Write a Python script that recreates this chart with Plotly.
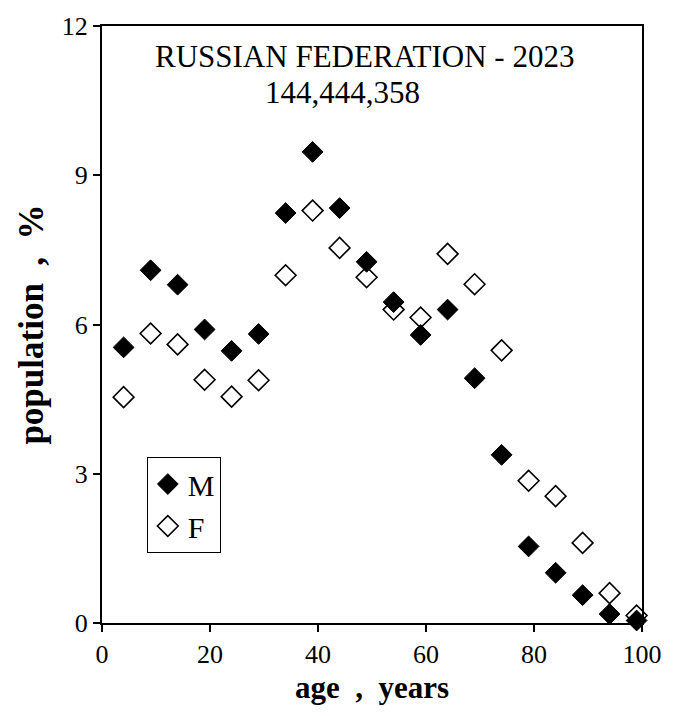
import plotly.graph_objects as go

age = [4, 9, 14, 19, 24, 29, 34, 39, 44, 49, 54, 59, 64, 69, 74, 79, 84, 89, 94, 99]
male = [5.54, 7.09, 6.80, 5.90, 5.47, 5.81, 8.24, 9.47, 8.34, 7.26, 6.45, 5.79, 6.30, 4.92,
        3.38, 1.54, 1.01, 0.56, 0.18, 0.05]
female = [4.54, 5.82, 5.60, 4.89, 4.55, 4.88, 6.99, 8.29, 7.54, 6.95, 6.30, 6.14, 7.42, 6.81,
          5.48, 2.86, 2.55, 1.61, 0.60, 0.15]
title_lines = ["RUSSIAN FEDERATION - 2023", "144,444,358"]
x_ticks = [0, 20, 40, 60, 80, 100]
y_ticks = [0, 3, 6, 9, 12]

FONT = "Liberation Serif"

fig = go.Figure()
fig.add_trace(go.Scatter(
    x=age, y=male, mode="markers", name="M", legendgroup="m",
    marker=dict(symbol="diamond", size=16, color="black", line=dict(color="black", width=1)),
    cliponaxis=False,
))
fig.add_trace(go.Scatter(
    x=age, y=female, mode="markers", name="F", legendgroup="f",
    marker=dict(symbol="diamond-open", size=16, color="black", line=dict(color="black", width=1.6)),
    cliponaxis=False,
))

fig.add_annotation(xref="paper", yref="paper", x=(364 - 102) / 540, y=(623 - 43) / 611,
                   text=title_lines[0], showarrow=False, xanchor="center", yanchor="middle",
                   font=dict(family=FONT, size=31, color="black"))
fig.add_annotation(xref="paper", yref="paper", x=(342 - 102) / 540, y=(623 - 80) / 611,
                   text=title_lines[1], showarrow=False, xanchor="center", yanchor="middle",
                   font=dict(family=FONT, size=31, color="black"))

fig.update_layout(
    width=675, height=716,
    margin=dict(l=102, r=33, t=12, b=93),
    paper_bgcolor="white", plot_bgcolor="white",
    font=dict(family=FONT, color="black"),
    showlegend=True,
    legend=dict(
        x=0.083, y=0.278, xanchor="left", yanchor="top",
        bordercolor="black", borderwidth=1, bgcolor="white",
        font=dict(family=FONT, size=30, color="black"),
        itemwidth=30, tracegroupgap=0,
    ),
    xaxis=dict(
        range=[0, 100], tickvals=x_ticks, ticks="outside", ticklen=7, tickwidth=1.5,
        tickcolor="black", showline=True, linecolor="black", linewidth=2, mirror=True,
        showgrid=False, zeroline=False,
        tickfont=dict(family=FONT, size=26, color="black"),
        title=dict(text="<b>age  ,  years</b>", font=dict(family=FONT, size=31, color="black"), standoff=8),
    ),
    yaxis=dict(
        range=[0, 12], tickvals=y_ticks, ticks="outside", ticklen=7, tickwidth=1.5,
        tickcolor="black", showline=True, linecolor="black", linewidth=2, mirror=True,
        showgrid=False, zeroline=False,
        tickfont=dict(family=FONT, size=26, color="black"),
        title=dict(text="<b>population  ,  %</b>", font=dict(family=FONT, size=35, color="black"), standoff=8),
    ),
)

fig.write_html("out.html")
